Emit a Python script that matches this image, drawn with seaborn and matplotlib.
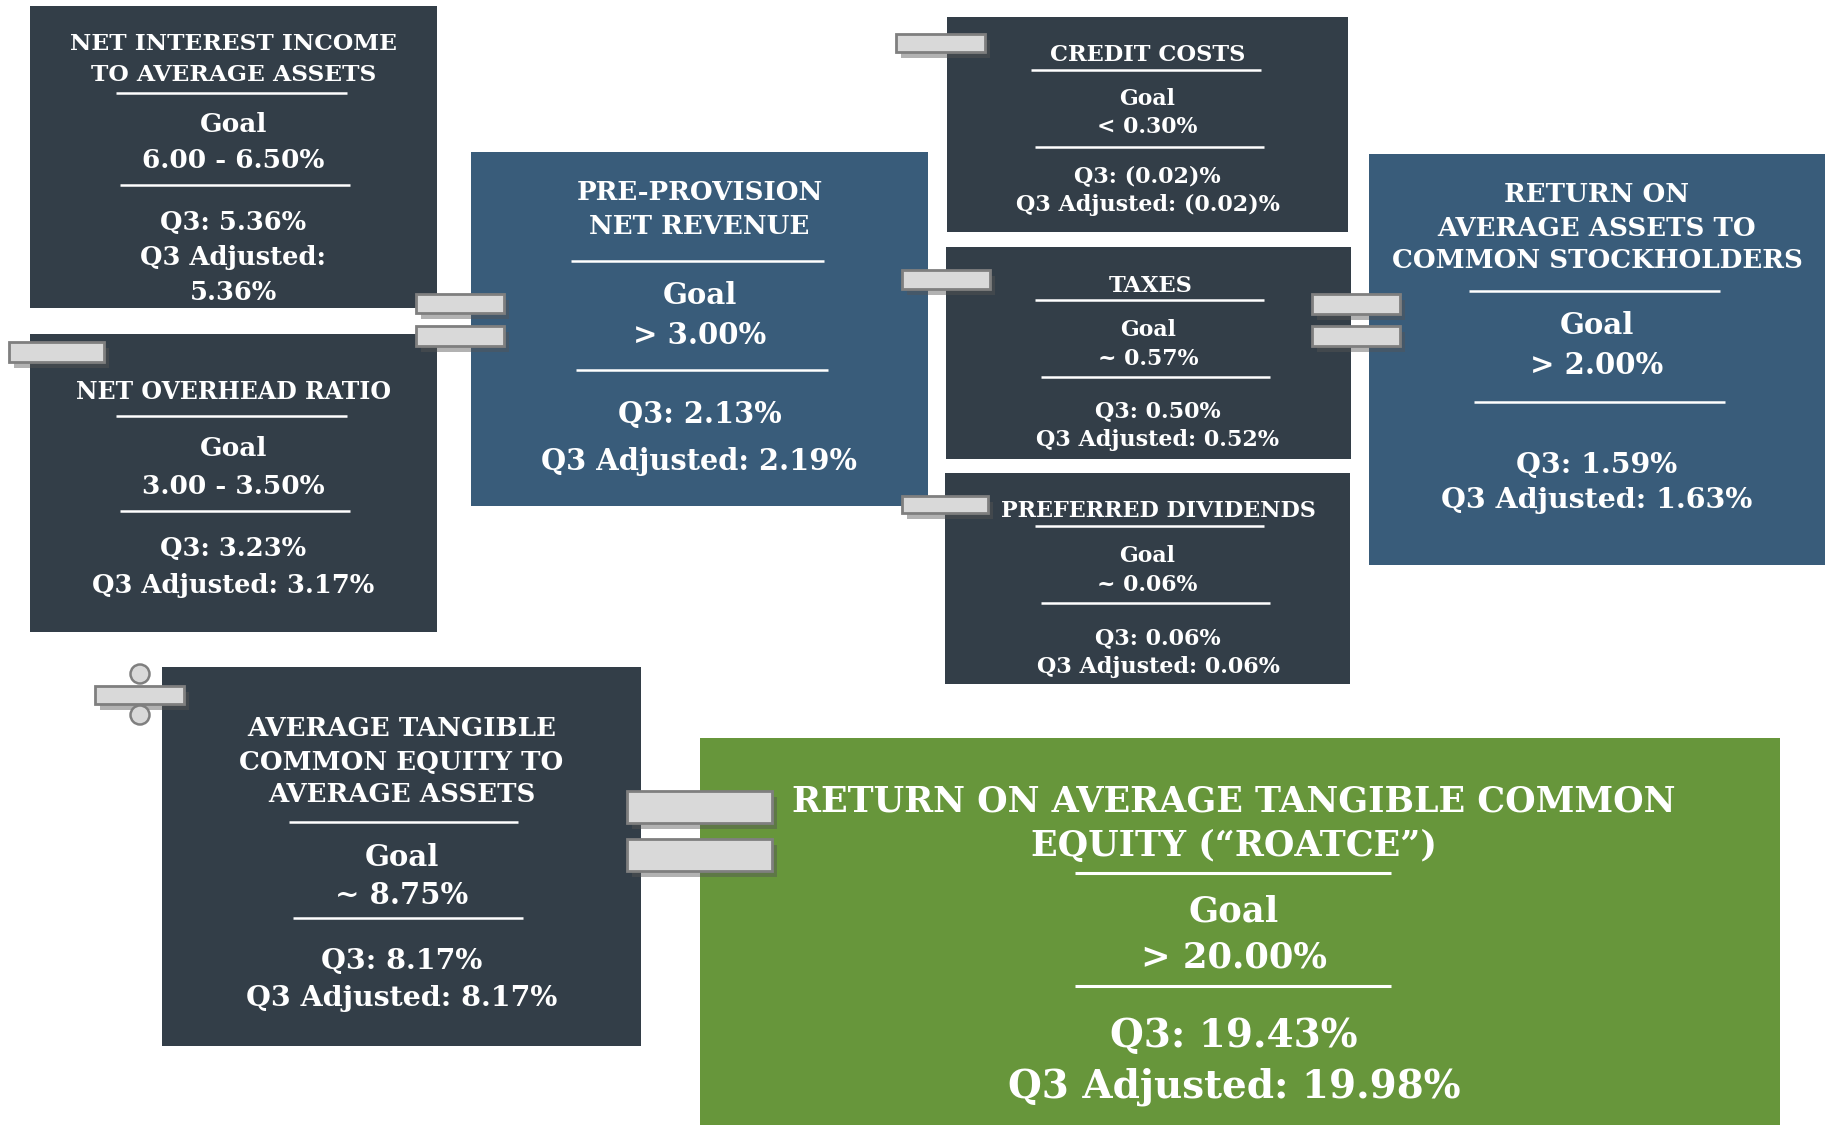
import matplotlib.pyplot as plt
import seaborn as sns
from matplotlib.patches import Rectangle, Ellipse

sns.set_theme(style="white")
plt.rcParams['font.family'] = ['DejaVu Serif']

# ---- data ----
titles = [
    ["NET INTEREST INCOME", "TO AVERAGE ASSETS"],
    ["NET OVERHEAD RATIO"],
    ["PRE-PROVISION", "NET REVENUE"],
    ["CREDIT COSTS"],
    ["TAXES"],
    ["PREFERRED DIVIDENDS"],
    ["RETURN ON", "AVERAGE ASSETS TO", "COMMON STOCKHOLDERS"],
    ["AVERAGE TANGIBLE", "COMMON EQUITY TO", "AVERAGE ASSETS"],
    ["RETURN ON AVERAGE TANGIBLE COMMON", "EQUITY (\u201cROATCE\u201d)"],
]
goals = ["6.00 - 6.50%", "3.00 - 3.50%", "> 3.00%", "< 0.30%", "~ 0.57%",
         "~ 0.06%", "> 2.00%", "~ 8.75%", "> 20.00%"]
q3 = ["5.36%", "3.23%", "2.13%", "(0.02)%", "0.50%", "0.06%", "1.59%",
      "8.17%", "19.43%"]
q3_adj = ["5.36%", "3.17%", "2.19%", "(0.02)%", "0.52%", "0.06%", "1.63%",
          "8.17%", "19.98%"]

# ---- layout (pixels, y down) ----
DARK = "#333E48"
BLUE = "#395C7A"
GREEN = "#67963B"
TEXT_DY = 4  # va="center" sits a little high for this font

layout = [
    dict(rect=(30, 6, 437, 308), fc=DARK, ty=[40, 71], tfs=16.8,
         r1=(93, 116, 347), gy=[121, 157], gfs=19, r2=(185, 120, 350),
         vy=[218, 253, 289], vfs=18.5, wrap=True),
    dict(rect=(30, 334, 437, 632), fc=DARK, ty=[388], tfs=17,
         r1=(416, 116, 347), gy=[445, 482], gfs=19, r2=(511, 120, 350),
         vy=[545, 582], vfs=18.5),
    dict(rect=(471, 152, 928, 506), fc=BLUE, ty=[189, 223], tfs=18.8,
         r1=(261, 571, 824), gy=[292, 332], gfs=21, r2=(370, 576, 828),
         vy=[410, 457], vfs=20.8),
    dict(rect=(947, 17, 1348, 232), fc=DARK, ty=[51], tfs=16.2,
         r1=(70, 1031, 1261), gy=[95, 123], gfs=15.8, r2=(147, 1035, 1264),
         vy=[172, 201], vfs=16),
    dict(rect=(946, 247, 1351, 459), fc=DARK, ty=[282], tfs=16.2,
         r1=(300, 1035, 1264), gy=[326, 355], gfs=15.8, r2=(377, 1041, 1270),
         vy=[407, 436], vfs=16, tcx=1151, vcx=1158),
    dict(rect=(945, 473, 1350, 684), fc=DARK, ty=[507], tfs=16,
         r1=(526, 1035, 1264), gy=[552, 581], gfs=15.8, r2=(603, 1041, 1270),
         vy=[634, 663], vfs=16, tcx=1158, vcx=1158),
    dict(rect=(1369, 154, 1825, 565), fc=BLUE, ty=[191, 224, 257], tfs=18.8,
         r1=(291, 1469, 1720), gy=[322, 362], gfs=21, r2=(402, 1474, 1725),
         vy=[461, 497], vfs=20.5),
    dict(rect=(162, 667, 641, 1046), fc=DARK, ty=[724, 758, 791], tfs=18.8,
         r1=(822, 289, 518), gy=[853, 892], gfs=21, r2=(918, 293, 523),
         vy=[957, 995], vfs=20.5),
    dict(rect=(700, 738, 1780, 1130), fc=GREEN, ty=[797, 842], tfs=25.2,
         r1=(873, 1075, 1391), gy=[908, 954], gfs=25.5, r2=(986, 1075, 1391),
         vy=[1032, 1083], vfs=28, cx=1234),
]

# operator bars: (x0, y0, x1, y1)
op_bars = [
    (416, 294, 504, 313), (416, 326, 504, 346),      # = PPNR
    (9, 342, 104, 362),                              # - overhead
    (896, 34, 985, 52),                              # - credit costs
    (902, 270, 990, 289),                            # - taxes
    (902, 496, 988, 513),                            # - preferred
    (1312, 294, 1400, 314), (1312, 326, 1400, 346),  # = ROAA
    (95, 686, 184, 704),                             # divide
    (627, 791, 772, 823), (627, 839, 772, 871),      # = ROATCE
]
div_dots = [(140, 674), (140, 715)]

fig = plt.figure(figsize=(18.25, 11.25), dpi=100)
ax = fig.add_axes([0, 0, 1, 1])
ax.set_xlim(0, 1825)
ax.set_ylim(1125, 0)
ax.axis("off")

for i, lay in enumerate(layout):
    x0, y0, x1, y1 = lay["rect"]
    ax.add_patch(Rectangle((x0, y0), x1 - x0, y1 - y0, fc=lay["fc"], ec="none", zorder=1))
    cx = lay.get("cx", (x0 + x1) / 2)
    tcx = lay.get("tcx", cx)
    vcx = lay.get("vcx", cx)
    for line, y in zip(titles[i], lay["ty"]):
        ax.text(tcx, y + TEXT_DY, line, ha="center", va="center", color="white",
                fontsize=lay["tfs"], fontweight="bold", zorder=3)
    lw = 2.2 if lay["fc"] == GREEN else 1.8
    for ry, rx0, rx1 in (lay["r1"], lay["r2"]):
        ax.plot([rx0, rx1], [ry, ry], color="white", lw=lw, zorder=3,
                solid_capstyle="butt")
    for line, y in zip(["Goal", goals[i]], lay["gy"]):
        ax.text(cx, y + TEXT_DY, line, ha="center", va="center", color="white",
                fontsize=lay["gfs"], fontweight="bold", zorder=3)
    if lay.get("wrap"):
        vals = ["Q3: " + q3[i], "Q3 Adjusted:", q3_adj[i]]
    else:
        vals = ["Q3: " + q3[i], "Q3 Adjusted: " + q3_adj[i]]
    for line, y in zip(vals, lay["vy"]):
        ax.text(vcx, y + TEXT_DY, line, ha="center", va="center", color="white",
                fontsize=lay["vfs"], fontweight="bold", zorder=3)

for x0, y0, x1, y1 in op_bars:
    ax.add_patch(Rectangle((x0 + 5, y0 + 6), x1 - x0, y1 - y0, fc="#555555",
                           ec="none", alpha=0.45, zorder=4))
    ax.add_patch(Rectangle((x0, y0), x1 - x0, y1 - y0, fc="#D9D9D9",
                           ec="#7F7F7F", lw=2, zorder=5))

for cx, cy in div_dots:
    ax.add_patch(Ellipse((cx, cy), 19, 19, fc="#D9D9D9", ec="#7F7F7F",
                         lw=1.8, zorder=5))

fig.savefig("out.png", dpi=100, facecolor="white")
